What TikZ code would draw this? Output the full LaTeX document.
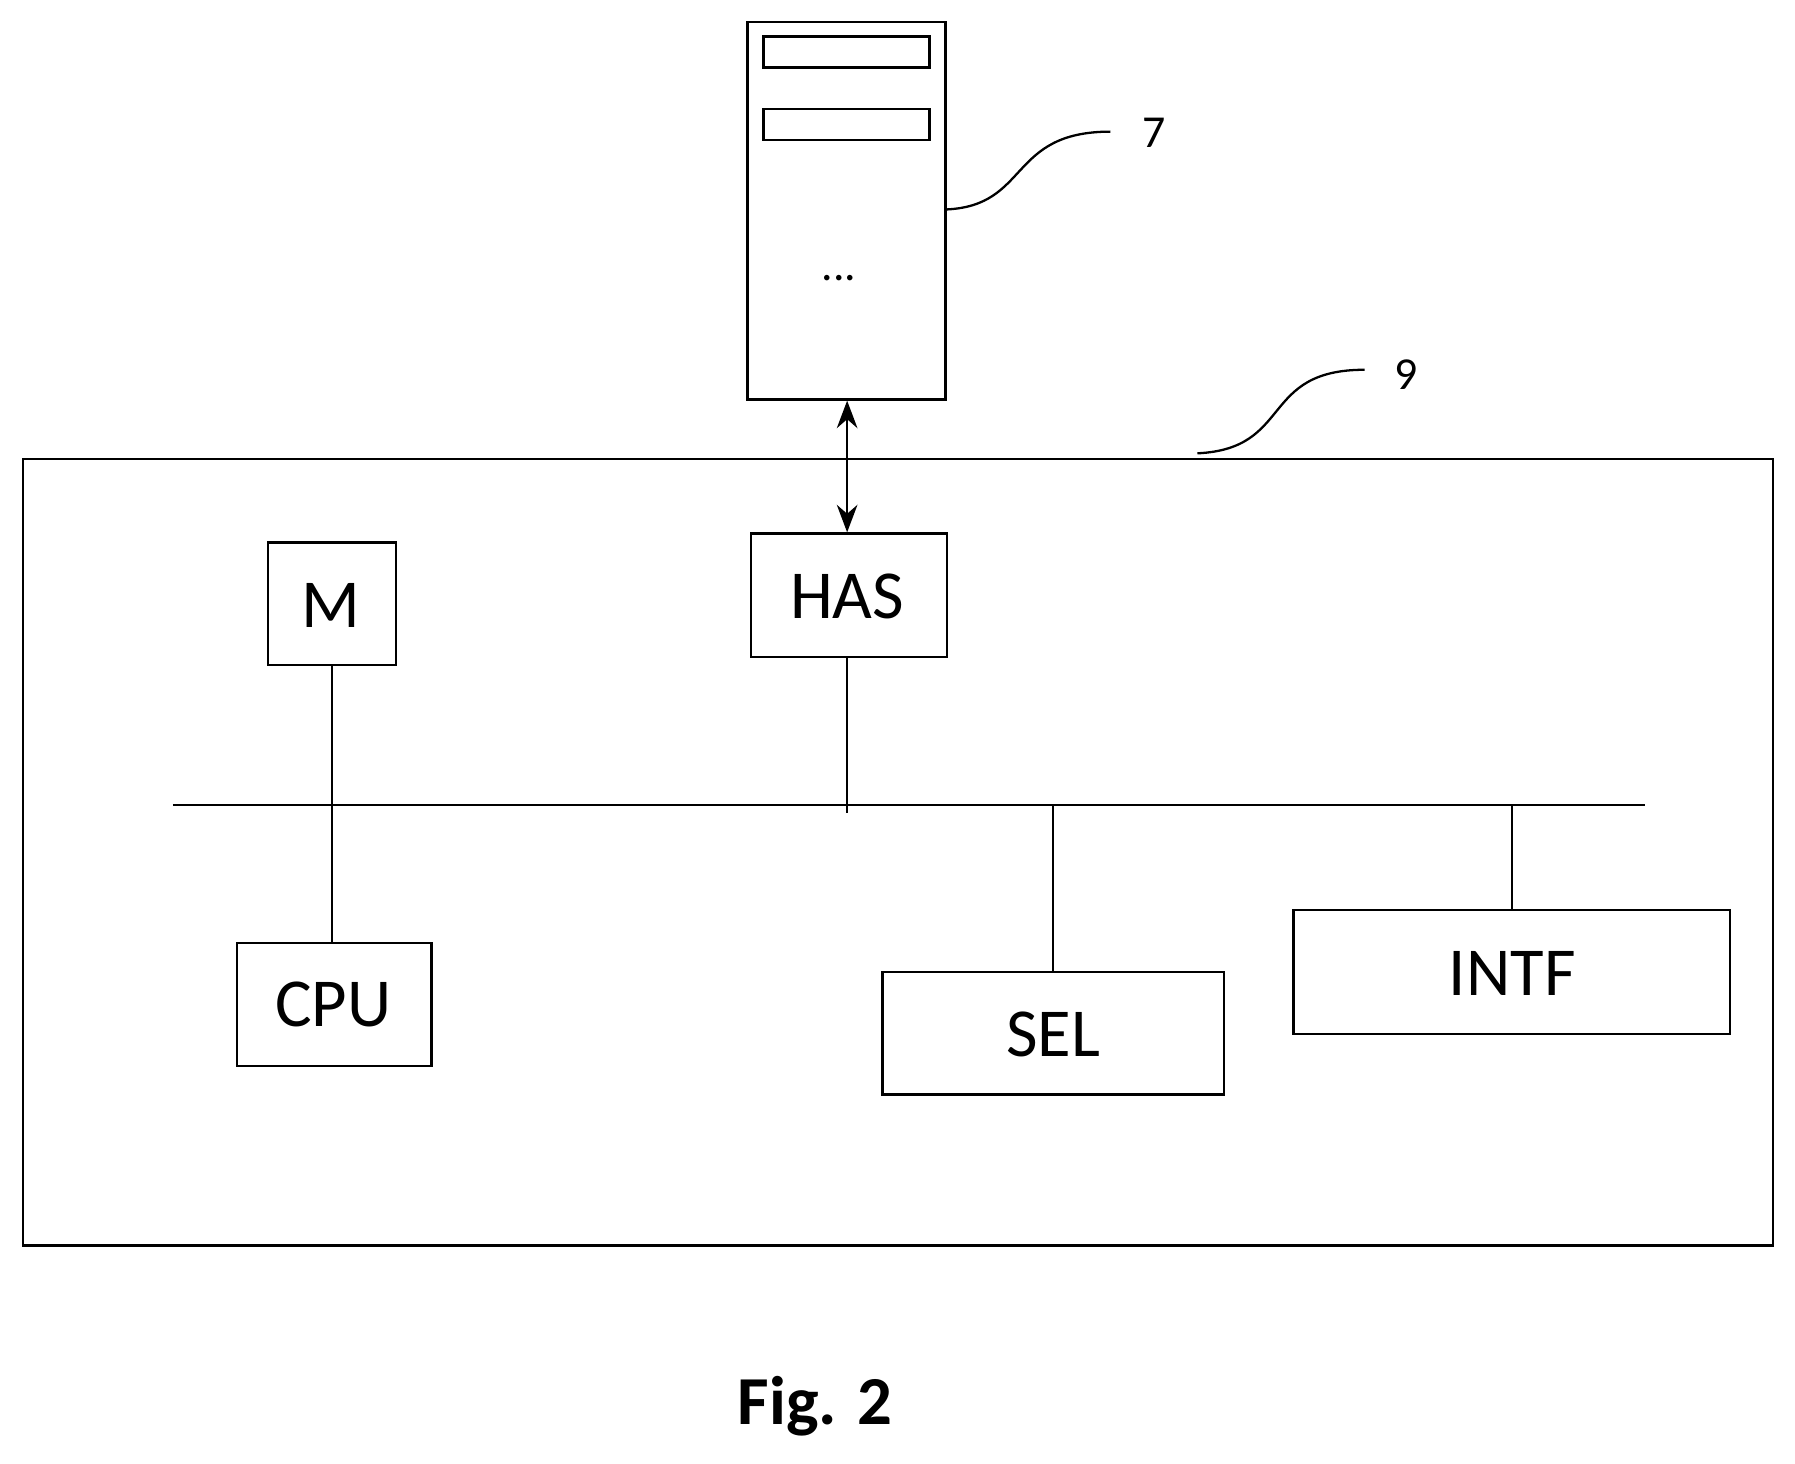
\documentclass[tikz,border=0pt]{standalone}
\usepackage{fontspec}
\setmainfont{Carlito}
\usetikzlibrary{arrows.meta}
\begin{document}
\begin{tikzpicture}[x=0.5pt,y=-0.5pt,line width=1pt,
  box/.style={draw,inner sep=0pt,anchor=north west},
  txt/.style={font=\fontsize{30}{34}\selectfont},
  lbl/.style={font=\fontsize{20}{24}\selectfont}]
\useasboundingbox (0,0) rectangle (1568,1278);
% server
\node[box,minimum width=86.5pt,minimum height=165pt] (srv) at (652,18) {};
\node[box,minimum width=72.5pt,minimum height=13.5pt] (s1) at (666,31) {};
\node[box,minimum width=72.5pt,minimum height=13.5pt] (s2) at (666,94) {};
\node[lbl] (dots) at (733,243) {...};
\node[lbl] (l7) at (1008,116) {7};
\coordinate (c7) at (826,183);
\draw (c7) .. controls (900,180) and (880,115) .. (970,115);
% outer
\node[box,minimum width=764.5pt,minimum height=343.5pt] (outer) at (19,400) {};
\node[lbl] (l9) at (1228,327) {9};
\coordinate (c9) at (1046,396);
\draw (c9) .. controls (1130,392) and (1100,323) .. (1192,323);
% blocks
\node[box,minimum width=85.5pt,minimum height=54pt] (has) at (655,465) {};
\node[txt] at (740,521) {HAS};
\node[box,minimum width=56pt,minimum height=53.5pt] (m) at (233,473) {};
\node[txt] at (289,529) {M};
\node[box,minimum width=85pt,minimum height=53.5pt] (cpu) at (206,823) {};
\node[txt] at (291,877) {CPU};
\node[box,minimum width=149pt,minimum height=53.5pt] (sel) at (770,848) {};
\node[txt] at (920,904) {SEL};
\node[box,minimum width=190.5pt,minimum height=54pt] (intf) at (1129,794) {};
\node[txt] at (1321,850) {INTF};
% bus
\coordinate (b0) at (151,703);
\coordinate (b1) at (1437,703);
\draw (b0) -- (b1);
\draw[{Stealth[length=12pt,width=9pt]}-{Stealth[length=12pt,width=9pt]}] (740,350) -- (has.north -| 740,0);
\draw (m.south -| 290,0) -- (cpu.north -| 290,0);
\coordinate (hb) at (740,710);
\draw (has.south -| 740,0) -- (hb);
\draw (920,703) -- (sel.north -| 920,0);
\draw (1321,703) -- (intf.north -| 1321,0);
\node[font=\fontsize{30}{34}\selectfont\bfseries] (fig) at (712,1228) {Fig. 2};
\end{tikzpicture}
\end{document}
